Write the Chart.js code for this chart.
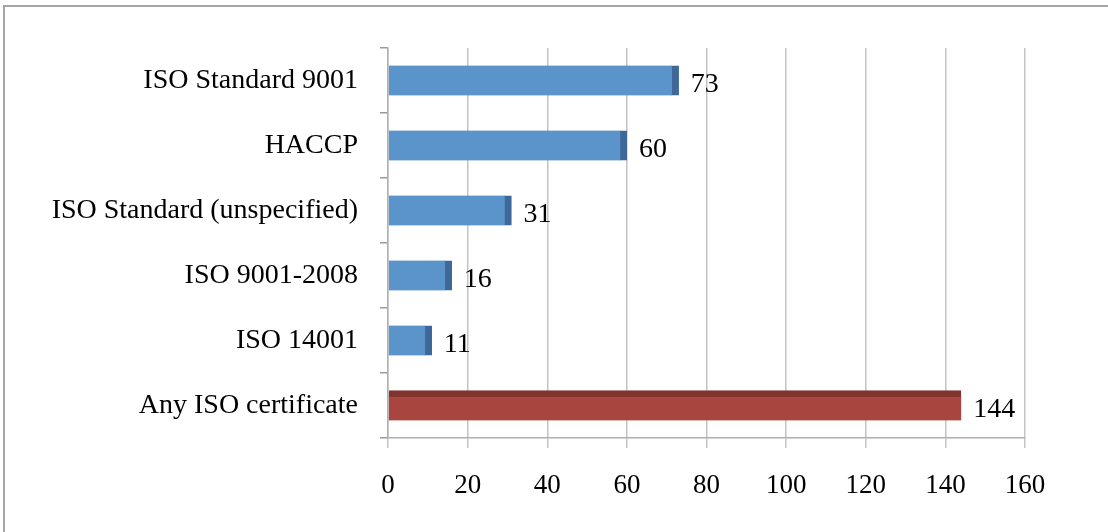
<!DOCTYPE html>
<html>
<head>
<meta charset="utf-8">
<script src="https://cdn.jsdelivr.net/npm/chart.js@4.4.1/dist/chart.umd.min.js"></script>
<style>
  body { margin: 0; background: #fff; }
  #frame { position: absolute; left: 3px; top: 5px; width: 1103px; height: 525px; border: 2px solid #a6a6a6; }
  #myChart { position: absolute; left: 0; top: 0; }
</style>
</head>
<body>
<div id="frame"></div>
<canvas id="myChart" width="1108" height="532"></canvas>
<script>
// data
var categories = ["ISO Standard 9001", "HACCP", "ISO Standard (unspecified)", "ISO 9001-2008", "ISO 14001", "Any ISO certificate"];
var counts = [73, 60, 31, 16, 11, 144];
var barColors = ["#5b93cb", "#5b93cb", "#5b93cb", "#5b93cb", "#5b93cb", "#a8453f"];
var sideColors = ["#3e6898", "#3e6898", "#3e6898", "#3e6898", "#3e6898", "#82332e"];
var xTicks = [0, 20, 40, 60, 80, 100, 120, 140, 160];

var serif = "'Liberation Serif', 'DejaVu Serif', serif";

// value labels at the end of each bar
var valueLabels = {
	id: 'valueLabels',
	afterDatasetsDraw: function(chart) {
		var ctx = chart.ctx;
		var meta = chart.getDatasetMeta(0);
		ctx.save();
		ctx.font = "28px " + serif;
		ctx.fillStyle = "#000";
		ctx.textBaseline = "middle";
		ctx.textAlign = "left";
		meta.data.forEach(function(bar, i) {
			ctx.fillText(String(counts[i]), bar.x + 12, bar.y + 4);
		});
		ctx.restore();
	}
};

var ctx = document.getElementById('myChart').getContext('2d');
var chart = new Chart(ctx, {
	type: 'bar',
	data: {
		labels: categories,
		datasets: [{
			data: counts,
			backgroundColor: barColors,
			borderColor: sideColors,
			borderWidth: function(c) {
				return c.dataIndex == 5 ? { top: 7, right: 0, bottom: 0, left: 0 } : { top: 0, right: 7, bottom: 0, left: 0 };
			},
			borderSkipped: false,
			barThickness: function(c) { return c.dataIndex == 5 ? 34 : 30; }
		}]
	},
	options: {
		indexAxis: 'y',
		responsive: false,
		animation: false,
		layout: { padding: { left: 0, right: 83, top: 48, bottom: 28 } },
		plugins: {
			legend: { display: false },
			tooltip: { enabled: false }
		},
		scales: {
			x: {
				min: 0,
				max: 160,
				afterFit: function(scale) { scale.height = 66; },
				ticks: {
					stepSize: 20,
					color: "#000",
					padding: 22,
					font: { family: serif, size: 27 }
				},
				grid: { color: "#c4c4c4", lineWidth: 1.5, tickLength: 10 },
				border: { color: "#b0b0b0", width: 1.5 }
			},
			y: {
				afterFit: function(scale) { scale.width = 388; },
				ticks: {
					color: "#000",
					padding: 22,
					font: { family: serif, size: 28 }
				},
				grid: { drawOnChartArea: false, color: "#9a9a9a", lineWidth: 1.5, tickLength: 8 },
				border: { color: "#b0b0b0", width: 1.5 }
			}
		}
	},
	plugins: [valueLabels]
});
</script>
</body>
</html>
